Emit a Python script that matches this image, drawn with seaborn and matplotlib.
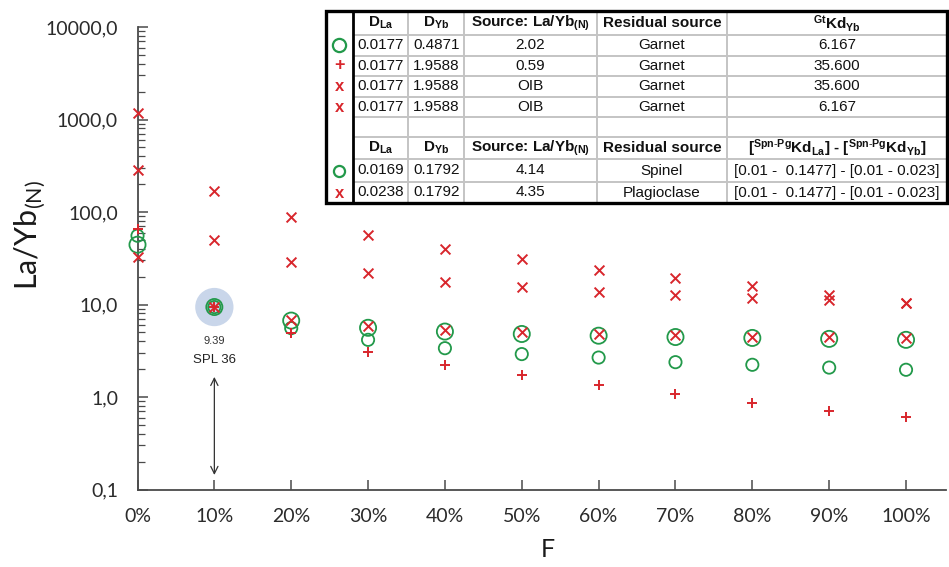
import numpy as np
import pandas as pd
import matplotlib
matplotlib.use("Agg")
import matplotlib.pyplot as plt
import seaborn as sns
from matplotlib.ticker import FixedLocator, FixedFormatter, LogLocator, NullFormatter
from matplotlib.patches import Rectangle

# ---------------- data ----------------
F_pct = [0, 10, 20, 30, 40, 50, 60, 70, 80, 90, 100]
grt_circle = [55.4, 9.38, 5.55, 4.15, 3.37, 2.91, 2.67, 2.38, 2.23, 2.08, 1.97]
grt_plus = [65.5, 9.45, 4.90, 3.10, 2.23, 1.73, 1.36, 1.08, 0.86, 0.71, 0.61]
oib_x_kd356 = [1178, 167, 87.5, 56.8, 40.1, 31.2, 23.8, 19.4, 15.7, 12.7, 10.5]
oib_x_kd6 = [287, 49.3, 28.8, 21.9, 17.7, 15.4, 13.7, 12.7, 11.7, 11.2, 10.5]
spl_circle = [44.3, 9.39, 6.7, 5.6, 5.1, 4.8, 4.6, 4.45, 4.35, 4.25, 4.15]
plg_x = [32.6, 9.36, 6.8, 5.8, 5.35, 5.0, 4.8, 4.65, 4.5, 4.4, 4.35]

sample_F = [10]
sample_value = [9.39]
sample_value_label = "9.39"
sample_name = "SPL 36"
arrow_range = [1.65, 0.1435]

x_ticks = [0, 10, 20, 30, 40, 50, 60, 70, 80, 90, 100]
x_tick_labels = ["0%", "10%", "20%", "30%", "40%", "50%", "60%", "70%", "80%", "90%", "100%"]
y_ticks = [0.1, 1, 10, 100, 1000, 10000]
y_tick_labels = ["0,1", "1,0", "10,0", "100,0", "1000,0", "10000,0"]

# table content
tbl1_dla = ["0.0177", "0.0177", "0.0177", "0.0177"]
tbl1_dyb = ["0.4871", "1.9588", "1.9588", "1.9588"]
tbl1_src = ["2.02", "0.59", "OIB", "OIB"]
tbl1_res = ["Garnet", "Garnet", "Garnet", "Garnet"]
tbl1_kd = ["6.167", "35.600", "35.600", "6.167"]
tbl1_sym = ["o", "+", "x", "x"]
tbl2_dla = ["0.0169", "0.0238"]
tbl2_dyb = ["0.1792", "0.1792"]
tbl2_src = ["4.14", "4.35"]
tbl2_res = ["Spinel", "Plagioclase"]
tbl2_kd = ["[0.01 -  0.1477] - [0.01 - 0.023]", "[0.01 -  0.1477] - [0.01 - 0.023]"]
tbl2_sym = ["o", "x"]

# ---------------- style ----------------
RED = "#d8262c"
GREEN = "#22994a"
HALO = "#c9d6ea"
AXC = "#4a4a4a"

sns.set_theme(style="white")
plt.rcParams["font.family"] = ["Lato", "DejaVu Sans"]
plt.rcParams["mathtext.fontset"] = "custom"
plt.rcParams["mathtext.rm"] = "Liberation Sans"
plt.rcParams["mathtext.bf"] = "Liberation Sans:bold"
plt.rcParams["mathtext.it"] = "Liberation Sans:italic"

W, H = 949, 567
fig = plt.figure(figsize=(W / 100, H / 100), dpi=100)
fig.patch.set_facecolor("white")


def px_axes(l, t, r, b):
    return fig.add_axes([l / W, 1 - b / H, (r - l) / W, (b - t) / H])


ax = px_axes(137.5, 27, 946, 489.5)
ax.set_facecolor("white")

# highlighted sample halo
sns.scatterplot(x=sample_F, y=sample_value, ax=ax, s=760, color=HALO,
                edgecolor="none", linewidth=0, zorder=2, legend=False)


def draw(vals, marker, size, lw, color, open_marker=False, z=3):
    sns.scatterplot(x=F_pct, y=vals, ax=ax, marker=marker, s=size,
                    color=color, linewidth=lw, zorder=z, legend=False)
    coll = ax.collections[-1]
    if open_marker:
        coll.set_facecolor("none")
        coll.set_edgecolor(color)
    else:
        coll.set_facecolor(color)
        coll.set_edgecolor(color)
    coll.set_linewidth(lw)
    coll.set_clip_on(False)


draw(spl_circle, "o", 135, 1.3, GREEN, open_marker=True)
draw(grt_circle, "o", 78, 1.3, GREEN, open_marker=True)
draw(grt_plus, "+", 62, 1.4, RED)
draw(oib_x_kd356, "x", 50, 1.4, RED)
draw(oib_x_kd6, "x", 50, 1.4, RED)
draw(plg_x, "x", 50, 1.4, RED)

ax.set_yscale("log")
ax.set_ylim(0.1, 10000)
ax.set_xlim(0, 105.2)

ax.yaxis.set_major_locator(FixedLocator(y_ticks))
ax.yaxis.set_major_formatter(FixedFormatter(y_tick_labels))
ax.yaxis.set_minor_locator(LogLocator(base=10, subs=np.arange(2, 10)))
ax.yaxis.set_minor_formatter(NullFormatter())
ax.xaxis.set_major_locator(FixedLocator(x_ticks))
ax.xaxis.set_major_formatter(FixedFormatter(x_tick_labels))

ax.tick_params(axis="y", which="major", direction="in", length=7, width=1.1,
               color=AXC, labelsize=14, labelcolor="#2b2b2b", pad=14, left=True)
ax.tick_params(axis="y", which="minor", direction="in", length=5, width=0.9,
               color=AXC, left=True)
ax.tick_params(axis="x", which="major", direction="in", length=7, width=1.1,
               color=AXC, labelsize=14, labelcolor="#2b2b2b", pad=13, bottom=True)

for side in ["top", "right"]:
    ax.spines[side].set_visible(False)
for side in ["left", "bottom"]:
    ax.spines[side].set_color(AXC)
    ax.spines[side].set_linewidth(1.3)

ax.set_ylabel(r"La/Yb$_{\mathregular{(N)}}$", fontsize=22, color="#1a1a1a")
ax.yaxis.set_label_coords(-0.112, 0.55)
ax.set_xlabel("F", fontsize=18, color="#1a1a1a")
ax.xaxis.set_label_coords(0.508, -0.105)

# annotation for the sample
ax.annotate(sample_value_label, xy=(sample_F[0], sample_value[0]), xytext=(0, -24.5),
            textcoords="offset points", ha="center", va="center", fontsize=8,
            family="Liberation Sans", color="#333333")
ax.annotate(sample_name, xy=(sample_F[0], sample_value[0]), xytext=(0, -38),
            textcoords="offset points", ha="center", va="center", fontsize=9.5,
            family="Liberation Sans", color="#222222")
ax.annotate("", xy=(sample_F[0], arrow_range[1]), xytext=(sample_F[0], arrow_range[0]),
            arrowprops=dict(arrowstyle="<->", lw=0.9, color="#333333",
                            mutation_scale=13, shrinkA=0, shrinkB=0))

# ---------------- table ----------------
T_L, T_T, T_R, T_B = 326, 11, 947, 203.3
tax = px_axes(T_L, T_T, T_R, T_B)
tw, th = T_R - T_L, T_B - T_T
tax.set_xlim(0, tw)
tax.set_ylim(th, 0)
tax.axis("off")
tax.add_patch(Rectangle((0, 0), tw, th, facecolor="white", edgecolor="none", zorder=0))

col_edges = [0, 26.7, 82.3, 138, 270.7, 401, tw]
row_edges = [0, 24, 44.7, 65, 85.7, 105.7, 125.7, 148.3, 170.7, th]
GRID = "#c4c4c4"
for x in col_edges[2:-1]:
    tax.plot([x, x], [0, th], color=GRID, lw=1.4, zorder=1, solid_capstyle="butt")
for y in row_edges[1:-1]:
    tax.plot([col_edges[1], tw], [y, y], color=GRID, lw=1.4, zorder=1, solid_capstyle="butt")
tax.plot([col_edges[1], col_edges[1]], [0, th], color="black", lw=2.0, zorder=3)
tax.add_patch(Rectangle((0, 0), tw, th, facecolor="none", edgecolor="black",
                        lw=2.4, zorder=4, clip_on=False))

ccent = [(col_edges[i] + col_edges[i + 1]) / 2 for i in range(len(col_edges) - 1)]
rcent = [(row_edges[i] + row_edges[i + 1]) / 2 for i in range(len(row_edges) - 1)]

TFONT = "Liberation Sans"
hdr1 = [r"D$_{\mathbf{La}}$", r"D$_{\mathbf{Yb}}$", r"Source: La/Yb$_{\mathbf{(N)}}$",
        "Residual source", r"${}^{\mathbf{Gt}}$Kd$_{\mathbf{Yb}}$"]
hdr2 = [r"D$_{\mathbf{La}}$", r"D$_{\mathbf{Yb}}$", r"Source: La/Yb$_{\mathbf{(N)}}$",
        "Residual source",
        r"[${}^{\mathbf{Spn\text{-}Pg}}$Kd$_{\mathbf{La}}$] - [${}^{\mathbf{Spn\text{-}Pg}}$Kd$_{\mathbf{Yb}}$]"]

for j, t in enumerate(hdr1):
    tax.text(ccent[j + 1], rcent[0], t, ha="center", va="center", fontsize=11,
             fontweight="bold", family=TFONT, color="#111111")
for j, t in enumerate(hdr2):
    tax.text(ccent[j + 1], rcent[6], t, ha="center", va="center", fontsize=11,
             fontweight="bold", family=TFONT, color="#111111")


def sym(kind, y, small=False):
    if kind == "o":
        tax.plot([ccent[0]], [y], marker="o", ms=8 if small else 9.5, mfc="none",
                 mec=GREEN, mew=1.6, zorder=5)
    elif kind == "+":
        tax.text(ccent[0], y, "+", ha="center", va="center", fontsize=13,
                 fontweight="bold", family=TFONT, color=RED)
    else:
        tax.text(ccent[0], y + 0.5, "x", ha="center", va="center", fontsize=12,
                 fontweight="bold", family=TFONT, color=RED)


def body(rows, y_centers, syms, small=False):
    for r, y in enumerate(y_centers):
        for j, col in enumerate(rows):
            tax.text(ccent[j + 1], y, col[r], ha="center", va="center", fontsize=11,
                     family=TFONT, color="#111111")
        sym(syms[r], y, small)


body([tbl1_dla, tbl1_dyb, tbl1_src, tbl1_res, tbl1_kd], rcent[1:5], tbl1_sym)
body([tbl2_dla, tbl2_dyb, tbl2_src, tbl2_res, tbl2_kd], rcent[7:9], tbl2_sym, small=True)

fig.savefig("out.png", dpi=100, facecolor="white")
